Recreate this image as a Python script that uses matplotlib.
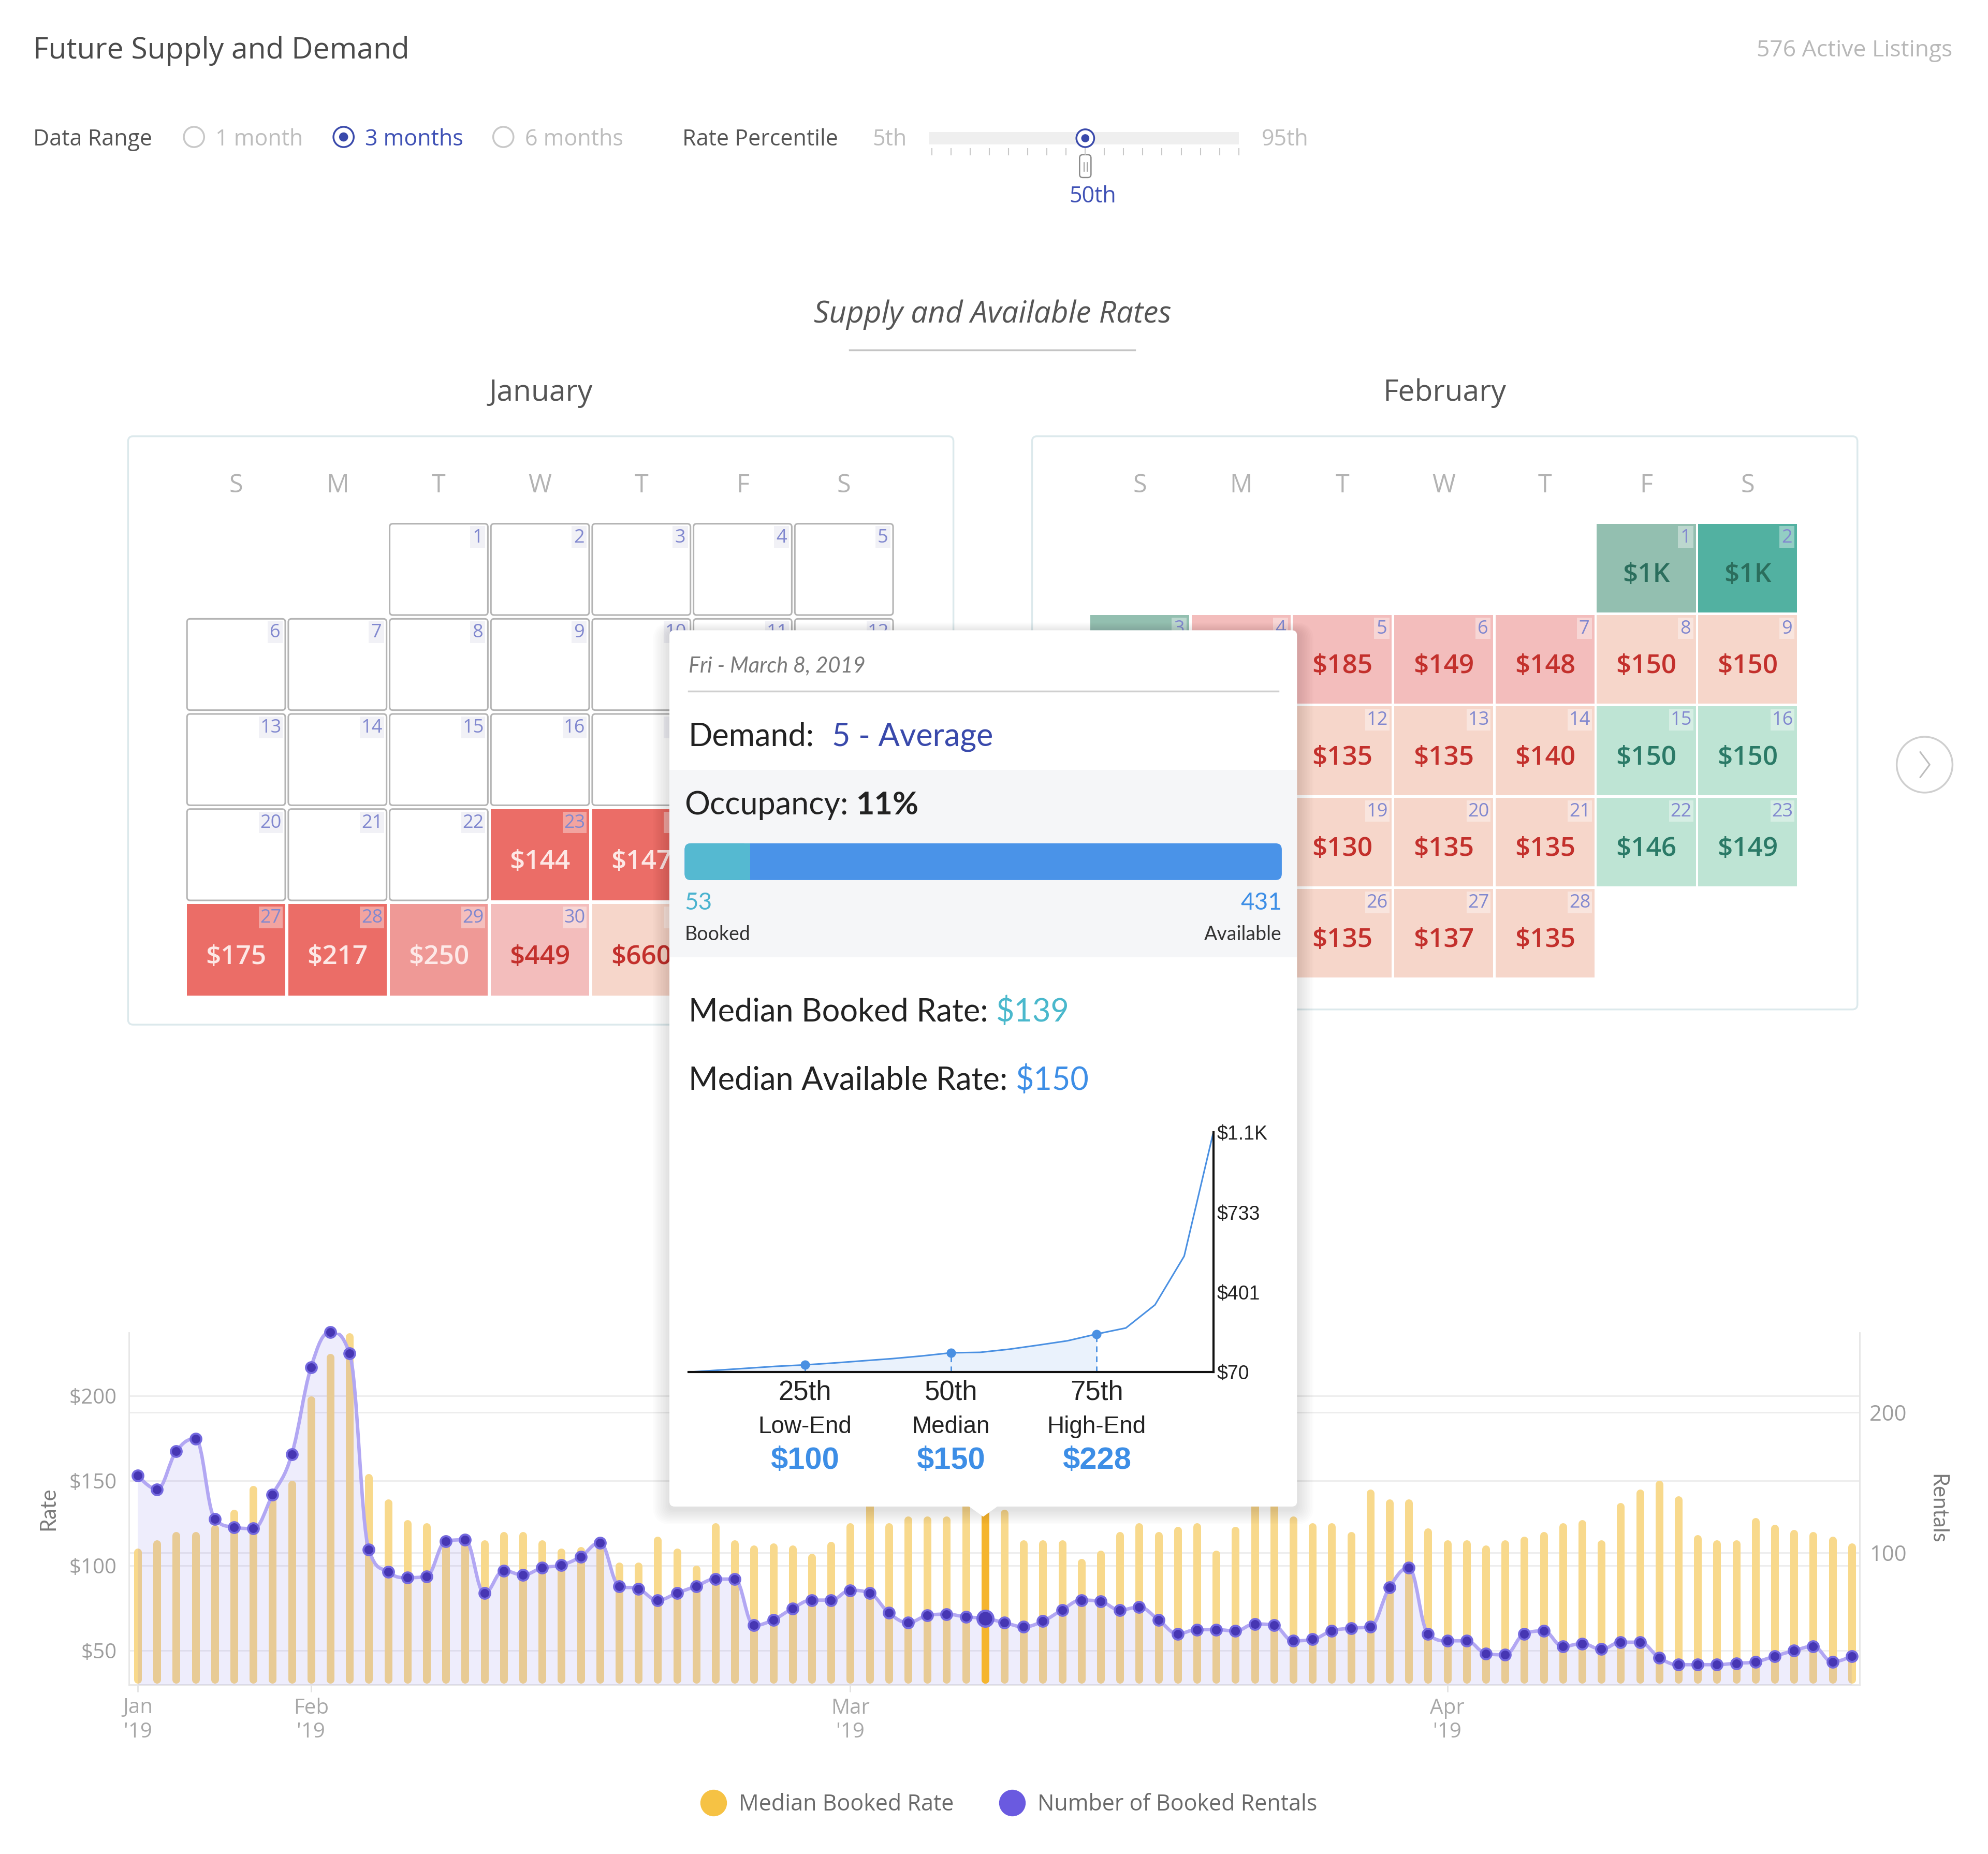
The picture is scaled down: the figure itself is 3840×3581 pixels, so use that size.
import datetime
import numpy as np
import pandas as pd
import matplotlib
matplotlib.use('Agg')
import matplotlib.pyplot as plt
import matplotlib.transforms as mtransforms
from matplotlib.patches import FancyBboxPatch, Rectangle, Circle, Polygon, PathPatch
from matplotlib.collections import LineCollection
from matplotlib.lines import Line2D
from matplotlib.path import Path

plt.rcParams['font.family'] = ['Open Sans', 'DejaVu Sans']

# ---------------------------- data ----------------------------
dates = pd.date_range('2019-01-23', '2019-04-22', freq='D')
median_booked_rate = [110, 115, 120, 120, 124, 133, 147, 144, 150, 200,
                      225, 237, 154, 139, 127, 125, 118, 119, 115, 120,
                      120, 115, 110, 111, 112, 102, 102, 117, 110, 100,
                      125, 115, 112, 113, 112, 107, 114, 125, 138, 125,
                      129, 129, 129, 140, 139, 133, 115, 115, 115, 104,
                      109, 120, 125, 120, 123, 125, 109, 123, 145, 142,
                      129, 125, 125, 120, 145, 139, 139, 122, 115, 115,
                      112, 115, 117, 120, 125, 127, 115, 137, 145, 150,
                      141, 118, 115, 115, 128, 124, 121, 120, 117, 113]
booked_rentals = [155, 145, 172, 181, 124, 118, 117, 141, 170, 232,
                  257, 242, 102, 86, 82, 83, 108, 109, 71, 87,
                  84, 89, 91, 97, 107, 76, 74, 66, 71, 76,
                  81, 81, 48, 52, 60, 66, 66, 73, 71, 57,
                  50, 55, 56, 54, 53, 50, 47, 51, 59, 66,
                  65, 59, 61, 52, 42, 45, 45, 44, 49, 48,
                  37, 38, 44, 46, 47, 75, 89, 42, 37, 37,
                  28, 27, 42, 44, 33, 35, 31, 36, 36, 25,
                  20, 20, 20, 21, 22, 26, 30, 33, 22, 26]
selected_date = pd.Timestamp('2019-03-08')

# calendar: available rate and demand level per day
jan_days = [23, 24, 25, 26, 27, 28, 29, 30, 31]
jan_rates = ['$144', '$147', '$152', '$160', '$175', '$217', '$250', '$449', '$660']
jan_levels = ['high', 'high', 'high', 'high', 'high', 'high', 'midhigh', 'elevated', 'average']

feb_days = list(range(1, 29))
feb_rates = ['$1K', '$1K', '$1K', '$160', '$185', '$149', '$148', '$150', '$150',
             '$140', '$135', '$135', '$135', '$140', '$150', '$150',
             '$135', '$135', '$130', '$135', '$135', '$146', '$149',
             '$140', '$135', '$135', '$137', '$135']
feb_levels = ['lower', 'lowest', 'lower', 'elevated', 'elevated', 'elevated', 'elevated', 'average', 'average',
              'average', 'average', 'average', 'average', 'average', 'low', 'low',
              'average', 'average', 'average', 'average', 'average', 'low', 'low',
              'average', 'average', 'average', 'average', 'average']

# tooltip for the selected day
tip_demand = '5 - Average'
tip_occupancy = '11%'
tip_booked = 53
tip_available = 431
tip_median_booked = '$139'
tip_median_available = '$150'
pct_x = [5, 10, 15, 20, 25, 30, 35, 40, 45, 50, 55, 60, 65, 70, 75, 80, 85, 90, 95]
pct_rate = [70, 78, 86, 94, 100, 108, 117, 126, 137, 150, 152, 165, 182, 200, 228, 253, 349, 551, 1064]
pct_marks = [25, 50, 75]
pct_names = ['Low-End', 'Median', 'High-End']
pct_values = [100, 150, 228]

level_style = {
    'high': ('#eb6d67', '#fde8e6'),
    'midhigh': ('#ef9996', '#fde9e8'),
    'elevated': ('#f3bdbc', '#c3302c'),
    'average': ('#f6d6ca', '#c3302c'),
    'low': ('#bee4d4', '#2b7a67'),
    'lower': ('#93bfb0', '#2b6e5d'),
    'lowest': ('#52b1a1', '#2b6e5d'),
}

# tooltip box (page units), used to skip calendar text hidden under it
tx0, ty0, tx1, ty1 = 528, 497, 1023, 1188
tip_rows = [525, 581, 635, 712, 737, 798, 852]


def hidden(px, py, half_w=6):
    depth = min(px - tx0, tx1 - px, py - ty0, ty1 - py)
    if depth > 8:
        return True
    if depth > -half_w and px + half_w > 538 and any(abs(py - r) < 20 for r in tip_rows):
        return True
    return False


# ---------------------------- figure ----------------------------
fig = plt.figure(figsize=(38.4, 35.81), dpi=100)
fig.patch.set_facecolor('white')

bg = fig.add_axes([0, 0, 1, 1])
bg.set_xlim(0, 1568)
bg.set_ylim(1462, 0)
bg.axis('off')
bg.set_zorder(0)

# header
bg.text(26, 40, 'Future Supply and Demand', fontsize=41, color='#4a4a4a', va='center')
bg.text(1540, 40, '576 Active Listings', fontsize=32, color='#b8b8b8', va='center', ha='right')
bg.text(26, 110, 'Data Range', fontsize=31, color='#555555', va='center')
for cx, lab, on in [(153, '1 month', False), (271, '3 months', True), (397, '6 months', False)]:
    bg.add_patch(Circle((cx, 108), 8, facecolor='white', edgecolor='#3949ab' if on else '#c8c8c8', lw=2.5))
    if on:
        bg.add_patch(Circle((cx, 108), 3.6, facecolor='#3949ab', edgecolor='none'))
    bg.text(cx + 17, 110, lab, fontsize=31, color='#3f51b5' if on else '#bdbdbd', va='center')
bg.text(538, 110, 'Rate Percentile', fontsize=31, color='#555555', va='center')
bg.text(688, 110, '5th', fontsize=31, color='#bdbdbd', va='center')
bg.text(995, 110, '95th', fontsize=31, color='#bdbdbd', va='center')
bg.add_patch(Rectangle((733, 104), 244, 10, facecolor='#efefef', edgecolor='none'))
for tx in np.linspace(735, 977, 17):
    bg.plot([tx, tx], [117, 122], color='#c8c8c8', lw=1.5)
bg.add_patch(FancyBboxPatch((851.5, 122), 9, 18, boxstyle='round,pad=0,rounding_size=2.5',
                            facecolor='white', edgecolor='#8a8a8a', lw=1.8))
bg.plot([855, 855], [128, 135], color='#8a8a8a', lw=1.2)
bg.plot([857.5, 857.5], [128, 135], color='#8a8a8a', lw=1.2)
bg.add_patch(Circle((856, 109), 7, facecolor='white', edgecolor='#3949ab', lw=2.5, zorder=3))
bg.add_patch(Circle((856, 109), 3.2, facecolor='#3949ab', edgecolor='none', zorder=4))
bg.text(862, 155, '50th', fontsize=31, color='#3f51b5', va='center', ha='center')

bg.text(783, 248, 'Supply and Available Rates', fontsize=42, color='#555555', va='center',
        ha='center', style='italic')
bg.plot([670, 895], [276, 276], color='#c4c4c4', lw=2.5)

# calendars
weekdays = ['S', 'M', 'T', 'W', 'T', 'F', 'S']


def draw_month(title, year, month, box, x0, y0, pitch_x, pitch_y, w, h, days, rates, levels):
    bx0, by0, bx1, by1 = box
    bg.add_patch(FancyBboxPatch((bx0, by0), bx1 - bx0, by1 - by0, boxstyle='round,pad=0,rounding_size=4',
                                facecolor='white', edgecolor='#dce9ec', lw=2.5))
    bg.text((bx0 + bx1) / 2, 310, title, fontsize=41, color='#555555', ha='center', va='center')
    for i, wd in enumerate(weekdays):
        bg.text(x0 + i * pitch_x + w / 2, 383, wd, fontsize=35, color='#b3b3b3', ha='center', va='center')
    first = datetime.date(year, month, 1)
    first_col = (first.weekday() + 1) % 7
    ndays = (datetime.date(year + (month == 12), month % 12 + 1, 1) - first).days
    info = {d: (r, l) for d, r, l in zip(days, rates, levels)}
    for d in range(1, ndays + 1):
        pos = d - 1 + first_col
        row, col = pos // 7, pos % 7
        x = x0 + col * pitch_x
        y = y0 + row * pitch_y
        if d in info:
            rate, lvl = info[d]
            fc, tc = level_style[lvl]
            bg.add_patch(Rectangle((x, y), w, h, facecolor=fc, edgecolor='none'))
            nb_fc, nb_alpha = 'white', 0.38
            if not hidden(x + w / 2, y + 0.58 * h, half_w=20):
                bg.text(x + w / 2, y + 0.58 * h, rate, fontsize=37, color=tc, ha='center', va='center',
                        fontweight='semibold')
        else:
            bg.add_patch(FancyBboxPatch((x, y), w, h, boxstyle='round,pad=0,rounding_size=2.5',
                                        facecolor='white', edgecolor='#b4b4b4', lw=2.2))
            nb_fc, nb_alpha = '#eeeef4', 0.8
        bw = 12 if d < 10 else 19
        bg.add_patch(Rectangle((x + w - bw - 2, y + 2), bw, 17, facecolor=nb_fc, alpha=nb_alpha,
                               edgecolor='none'))
        if not hidden(x + w - bw / 2 - 2, y + 11):
            bg.text(x + w - bw / 2 - 2, y + 11, str(d), fontsize=26, color='#8188cf', ha='center',
                    va='center')


draw_month('January', 2019, 1, (101, 344, 752, 808), 147.5, 413, 79.9, 75, 77.5, 72,
           jan_days, jan_rates, jan_levels)
draw_month('February', 2019, 2, (814, 344, 1465, 796), 860, 413, 79.9, 72, 78, 70,
           feb_days, feb_rates, feb_levels)

bg.add_patch(Circle((1518, 603), 22, facecolor='white', edgecolor='#cfcfcf', lw=2.5))
bg.plot([1514.5, 1522, 1514.5], [593, 603, 613], color='#bdbdbd', lw=2.2, solid_capstyle='round')

# ---------------------------- bottom chart ----------------------------
ax = fig.add_axes([249 / 3840, 1 - 3254 / 3581, (3592 - 249) / 3840, (3254 - 2574) / 3581])
ax.set_zorder(1)
ax.patch.set_visible(False)
ax2 = ax.twinx()
ax2.set_zorder(2)
ax2.patch.set_visible(False)

x = np.arange(len(dates))
rate_lo, rate_hi = 29.7, 237.3
rent_lo, rent_hi = 5.7, 256.7
cap = 2.24
sel = int(np.where(dates == selected_date)[0][0])

bars = ax.vlines(x, rate_lo + cap + 0.8, np.array(median_booked_rate) - cap, colors='#f8d98c',
                 lw=10.8, zorder=2)
bars.set_capstyle('round')


def spline_path(xs, ys):
    n = len(xs)
    lc = [(xs[i], ys[i]) for i in range(n)]
    rc = [(xs[i], ys[i]) for i in range(n)]
    for i in range(1, n - 1):
        px, py = xs[i - 1], ys[i - 1]
        nx, ny = xs[i + 1], ys[i + 1]
        cx, cy = xs[i], ys[i]
        lcx, lcy = (1.5 * cx + px) / 2.5, (1.5 * cy + py) / 2.5
        rcx, rcy = (1.5 * cx + nx) / 2.5, (1.5 * cy + ny) / 2.5
        corr = (rcy - lcy) * (rcx - cx) / (rcx - lcx) + cy - rcy
        lcy += corr
        rcy += corr
        if lcy > py and lcy > cy:
            lcy = max(py, cy)
            rcy = 2 * cy - lcy
        elif lcy < py and lcy < cy:
            lcy = min(py, cy)
            rcy = 2 * cy - lcy
        if rcy > ny and rcy > cy:
            rcy = max(ny, cy)
            lcy = 2 * cy - rcy
        elif rcy < ny and rcy < cy:
            rcy = min(ny, cy)
            lcy = 2 * cy - rcy
        lc[i] = (lcx, lcy)
        rc[i] = (rcx, rcy)
    verts = [(xs[0], ys[0])]
    codes = [Path.MOVETO]
    for i in range(1, n):
        verts += [rc[i - 1], lc[i], (xs[i], ys[i])]
        codes += [Path.CURVE4] * 3
    return verts, codes


verts, codes = spline_path(list(x), list(booked_rentals))
fill_path = Path(verts + [(x[-1], rent_lo), (x[0], rent_lo), (x[0], booked_rentals[0])],
                 codes + [Path.LINETO, Path.LINETO, Path.CLOSEPOLY])
ax2.add_patch(PathPatch(fill_path, facecolor='#6c5ce7', alpha=0.11, lw=0, zorder=1))

hl = LineCollection([[(sel, rate_lo + cap + 0.8), (sel, median_booked_rate[sel] - cap)]],
                    colors='#f5b52e', linewidths=10.8, transform=ax.transData, zorder=1.5)
hl.set_capstyle('round')
ax2.add_collection(hl, autolim=False)

ax2.add_patch(PathPatch(Path(verts, codes), facecolor='none', edgecolor='#b2a7f3', lw=4.8, zorder=2))
ax2.plot(x, booked_rentals, ls='none', marker='o', ms=15, mfc='#4636b3', mec='#7469df', mew=2.8,
         zorder=3, clip_on=False)
ax2.plot([sel], [booked_rentals[sel]], ls='none', marker='o', ms=22, mfc='#4636b3', mec='#7469df',
         mew=3.2, zorder=4, clip_on=False)

ax.set_xlim(-0.457, 89.41)
ax.set_ylim(rate_lo, rate_hi)
ax2.set_ylim(rent_lo, rent_hi)

ax.set_yticks([50, 100, 150, 200])
ax.set_yticklabels(['$50', '$100', '$150', '$200'])
ax2.set_yticks([100, 200])
ax2.set_yticklabels(['100', '200'])
ax.tick_params(axis='y', length=0, pad=17, labelsize=29, labelcolor='#9d9d9d')
ax2.tick_params(axis='y', length=0, pad=14, labelsize=30, labelcolor='#9d9d9d')
ax.grid(axis='y', color='#ececec', lw=2)
ax.set_axisbelow(True)
trans = mtransforms.blended_transform_factory(ax.transAxes, ax2.transData)
for v in [100, 200]:
    ax.plot([0, 1], [v, v], transform=trans, color='#ececec', lw=2, zorder=0.5)

month_starts = [i for i, d in enumerate(dates) if i == 0 or d.day == 1]
ax.set_xticks(month_starts)
ax.set_xticklabels([f"{dates[i]:%b}\n'{dates[i]:%y}" for i in month_starts])
ax.tick_params(axis='x', length=10, width=2, color='#e2e2e2', labelsize=29, labelcolor='#a8a8a8', pad=8)

ax.spines['top'].set_visible(False)
for s in ['left', 'right', 'bottom']:
    ax.spines[s].set_color('#e6e6e6')
    ax.spines[s].set_linewidth(2)
for s in ax2.spines.values():
    s.set_visible(False)

ax.set_ylabel('Rate', fontsize=30, color='#7a7a7a', family='Lato')
ax.yaxis.set_label_coords(-0.041, 0.5)
ax2.set_ylabel('Rentals', fontsize=30, color='#7a7a7a', family='Lato', rotation=270, va='center')
ax2.yaxis.set_label_coords(1.0449, 0.5)

fig.legend(handles=[Line2D([], [], ls='none', marker='o', ms=36, mfc='#f6c244', mec='#f6c244'),
                    Line2D([], [], ls='none', marker='o', ms=36, mfc='#6a5ae0', mec='#6a5ae0')],
           labels=['Median Booked Rate', 'Number of Booked Rentals'], loc='center',
           bbox_to_anchor=(792 / 1568, 1 - 1423 / 1462), ncol=2, frameon=False, fontsize=31,
           labelcolor='#6a6a6a', handletextpad=0.15, columnspacing=1.6)

# ---------------------------- tooltip ----------------------------
tip = fig.add_axes([0, 0, 1, 1])
tip.set_xlim(0, 1568)
tip.set_ylim(1462, 0)
tip.axis('off')
tip.set_zorder(5)
tip.patch.set_visible(False)

for k in range(10, 0, -1):
    tip.add_patch(FancyBboxPatch((tx0 - k * 1.3, ty0 - k * 0.8 + 2), tx1 - tx0 + k * 2.6, ty1 - ty0 + k * 2.0,
                                 boxstyle='round,pad=0,rounding_size=%g' % (4 + k), facecolor='black',
                                 alpha=0.012, edgecolor='none'))
tip.add_patch(FancyBboxPatch((tx0, ty0), tx1 - tx0, ty1 - ty0, boxstyle='round,pad=0,rounding_size=4',
                             facecolor='white', edgecolor='none'))
tip.add_patch(Polygon([(763, ty1 - 1), (775.5, 1196), (788, ty1 - 1)], closed=True, facecolor='white',
                      edgecolor='none'))
tip.add_patch(Rectangle((tx0, 607), tx1 - tx0, 148, facecolor='#f5f6f8', edgecolor='none'))

TF = 'Lato'
renderer = fig.canvas.get_renderer()


def after(t, gap, s, **kw):
    # put a second text just to the right of text t
    bb = t.get_window_extent(renderer=renderer)
    xe = tip.transData.inverted().transform((bb.x1, bb.y0))[0]
    x0, y0 = t.get_position()
    return tip.text(xe + gap, y0, s, va='center', family=TF, **kw)


tip.text(543, 525, 'Fri - March 8, 2019', fontsize=30, color='#7a7a7a', style='italic', va='center',
         family=TF)
tip.plot([543, 1008], [545, 545], color='#cfcfcf', lw=2.5)
t1 = tip.text(543, 581, 'Demand:', fontsize=44, color='#222222', va='center', family=TF)
after(t1, 14, tip_demand, fontsize=44, color='#3949ab')
t2 = tip.text(540, 635, 'Occupancy:', fontsize=44, color='#222222', va='center', family=TF)
after(t2, 6, tip_occupancy, fontsize=44, color='#222222', fontweight='bold')
occ = tip_booked / (tip_booked + tip_available)
bar_x0, bar_x1 = 540, 1011
tip.add_patch(FancyBboxPatch((bar_x0, 665), bar_x1 - bar_x0, 29, boxstyle='round,pad=0,rounding_size=5',
                             facecolor='#4a93e8', edgecolor='none'))
tip.add_patch(FancyBboxPatch((bar_x0, 665), (bar_x1 - bar_x0) * occ, 29,
                             boxstyle='round,pad=0,rounding_size=5', facecolor='#55b9d1', edgecolor='none'))
tip.add_patch(Rectangle((bar_x0 + (bar_x1 - bar_x0) * occ - 5, 665), 5, 29, facecolor='#55b9d1',
                        edgecolor='none'))
tip.text(540, 712, str(tip_booked), fontsize=33, color='#4ab3cf', va='center', family=TF)
tip.text(540, 737, 'Booked', fontsize=27, color='#333333', va='center', family=TF)
tip.text(1011, 712, str(tip_available), fontsize=33, color='#3d8ee6', va='center', ha='right', family=TF)
tip.text(1011, 737, 'Available', fontsize=27, color='#333333', va='center', ha='right', family=TF)
t3 = tip.text(543, 798, 'Median Booked Rate:', fontsize=44, color='#222222', va='center', family=TF)
after(t3, 6, tip_median_booked, fontsize=44, color='#4ab8cc')
t4 = tip.text(543, 852, 'Median Available Rate:', fontsize=44, color='#222222', va='center', family=TF)
after(t4, 6, tip_median_available, fontsize=44, color='#3d8ee6')

mini = fig.add_axes([543 / 1568, 1 - 1082 / 1462, (957 - 543) / 1568, (1082 - 893) / 1462])
mini.set_zorder(6)
mini.patch.set_visible(False)
upto = pct_x.index(75) + 1
mini.fill_between(pct_x[:upto], 70, pct_rate[:upto], color='#eaf2fc', lw=0)
mini.plot(pct_x, pct_rate, color='#4a90e2', lw=2.2)
mark_y = [pct_rate[pct_x.index(p)] for p in pct_marks]
mini.vlines(pct_marks, 70, mark_y, colors='#4a90e2', linestyles=(0, (4, 3)), lw=2)
mini.plot(pct_marks, mark_y, ls='none', marker='o', ms=12, color='#4a90e2')
mini.set_xlim(5, 95)
mini.set_ylim(70, 1064)
mini.set_xticks([])
mini.yaxis.tick_right()
mini.set_yticks([70, 401.3, 732.7, 1064])
mini.set_yticklabels(['$70', '$401', '$733', '$1.1K'])
mini.tick_params(axis='y', length=0, pad=5, labelsize=27, labelcolor='#222222')
for lab in mini.get_yticklabels():
    lab.set_family('Liberation Sans')
for s in ['top', 'left']:
    mini.spines[s].set_visible(False)
for s in ['bottom', 'right']:
    mini.spines[s].set_color('#111111')
    mini.spines[s].set_linewidth(3)
mtr = mtransforms.blended_transform_factory(mini.transData, mini.transAxes)
for p, nm, v in zip(pct_marks, pct_names, pct_values):
    mini.text(p, -0.085, f'{p}th', transform=mtr, fontsize=38, color='#222222', ha='center', va='center',
              family='Liberation Sans')
    mini.text(p, -0.228, nm, transform=mtr, fontsize=33, color='#222222', ha='center', va='center',
              family='Liberation Sans')
    mini.text(p, -0.37, f'${v}', transform=mtr, fontsize=43, color='#3d8ee6', ha='center', va='center',
              family='Liberation Sans', fontweight='bold')

fig.savefig('out.png', dpi=100, facecolor='white')
